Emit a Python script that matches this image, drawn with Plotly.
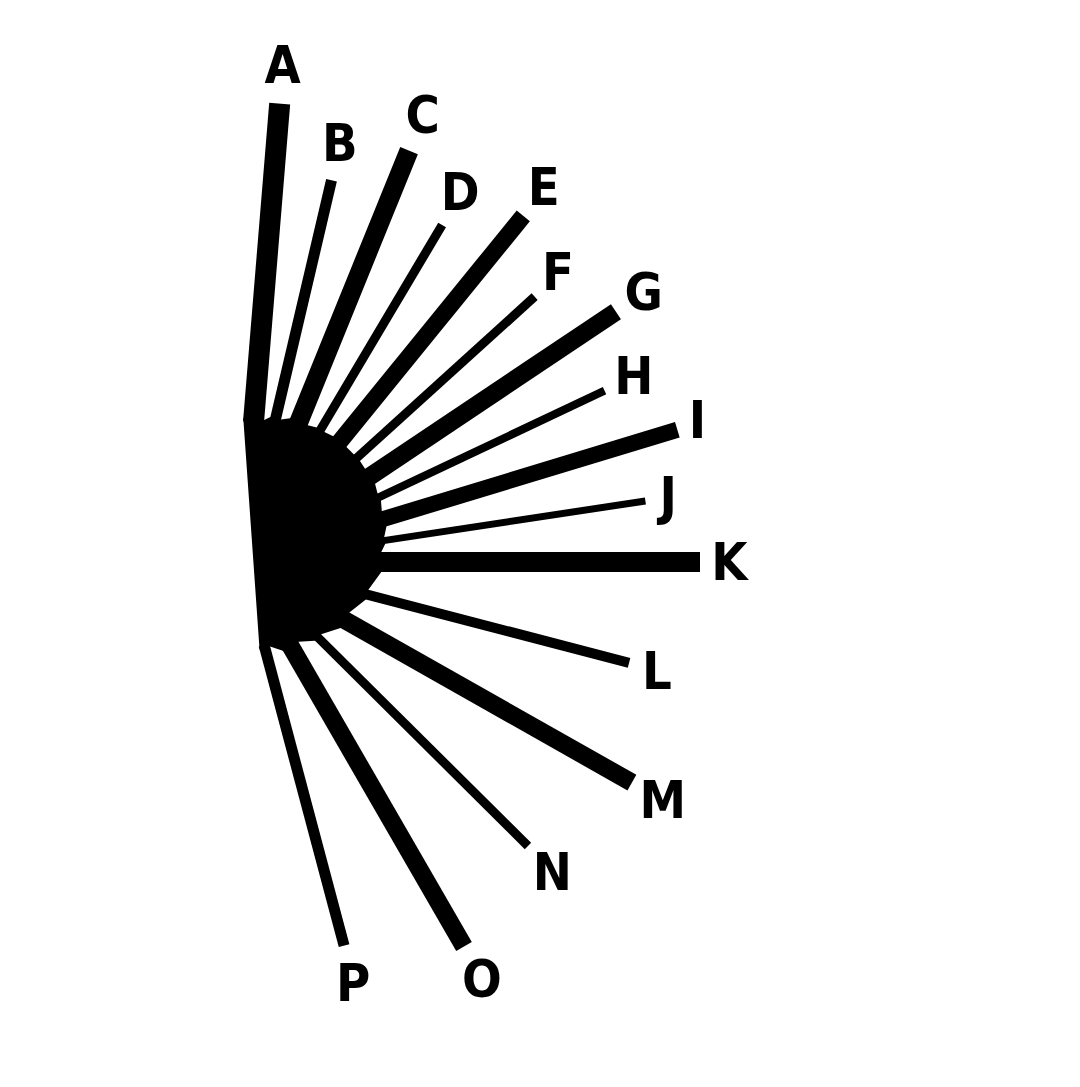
import numpy as np
import plotly.graph_objects as go

# ---- data ----
categories = ["A", "B", "C", "D", "E", "F", "G", "H", "I", "J", "K", "L", "M", "N", "O", "P"]
angles_deg = [85.3, 76.8, 67.9, 59.3, 50.9, 42.2, 33.8, 25.3, 16.9, 8.6, 0.0,
              -14.6, -29.5, -44.8, -60.0, -75.1]
lengths = [460, 392, 444, 392, 446, 395, 450, 401, 455, 408, 458, 400, 448, 403, 444, 397]
widths = [21, 11, 19, 9, 17, 9, 18, 8, 16, 7, 20, 10, 18, 9, 18, 11]

# ---- styling / layout constants ----
W, H = 1080, 1087
ORIGIN_PX = (234, 554)          # plot-area pixel position of the radial origin
HUB_C = np.array([28.0, 29.0])  # hub circle centre (data units = px)
HUB_R = 115.0
INK = "#000000"
FONT = "Liberation Sans Narrow, DejaVu Sans Condensed, Arial Narrow, sans-serif"
FONT_SIZE = 52
HALF_H = 19.0
TEXT_DY = -5.0                  # compensate text baseline placement
HALF_W = {"I": 6.0, "J": 9.0, "L": 14.0, "F": 14.0, "E": 14.0, "P": 15.0, "M": 19.0}
DEFAULT_HALF_W = 16.5

th = np.radians(angles_deg)
ux, uy = np.cos(th), np.sin(th)
nx, ny = -uy, ux

# base radius: where each ray leaves the hub circle
udotc = ux * HUB_C[0] + uy * HUB_C[1]
base = udotc + np.sqrt(udotc ** 2 - (HUB_C @ HUB_C) + HUB_R ** 2)

fig = go.Figure()

# hub polygon through bar base corners
hx, hy = [], []
for i in range(len(categories)):
    h = widths[i] / 2
    bx, by = base[i] * ux[i], base[i] * uy[i]
    hx += [bx + h * nx[i], bx - h * nx[i]]
    hy += [by + h * ny[i], by - h * ny[i]]
hx.append(hx[0]); hy.append(hy[0])
fig.add_trace(go.Scatter(x=hx, y=hy, mode="lines", fill="toself", fillcolor=INK,
                         line=dict(width=0, color=INK), hoverinfo="skip", showlegend=False))

# bars
for i, c in enumerate(categories):
    r0 = base[i] - 3
    r1 = lengths[i]
    fig.add_trace(go.Scatter(x=[r0 * ux[i], r1 * ux[i]], y=[r0 * uy[i], r1 * uy[i]],
                             mode="lines", line=dict(width=widths[i], color=INK),
                             name=c, hoverinfo="name", showlegend=False))

# labels
lx, ly = [], []
for i, c in enumerate(categories):
    gap = 13 + 7 * abs(uy[i])
    hw = HALF_W.get(c, DEFAULT_HALF_W)
    r = lengths[i] + gap
    lx.append(r * ux[i] + hw * ux[i])
    ly.append(r * uy[i] + HALF_H * uy[i] + TEXT_DY)
fig.add_trace(go.Scatter(x=lx, y=ly, mode="text", text=categories, textposition="middle center",
                         textfont=dict(family=FONT, size=FONT_SIZE, color=INK, weight="bold"),
                         hoverinfo="skip", showlegend=False))

ox, oy = ORIGIN_PX
fig.update_layout(
    width=W, height=H,
    margin=dict(l=0, r=0, t=0, b=0),
    paper_bgcolor="white", plot_bgcolor="white",
    xaxis=dict(range=[-ox, W - ox], visible=False, fixedrange=True),
    yaxis=dict(range=[oy - H, oy], visible=False, fixedrange=True),
)
fig.write_html("out.html")
